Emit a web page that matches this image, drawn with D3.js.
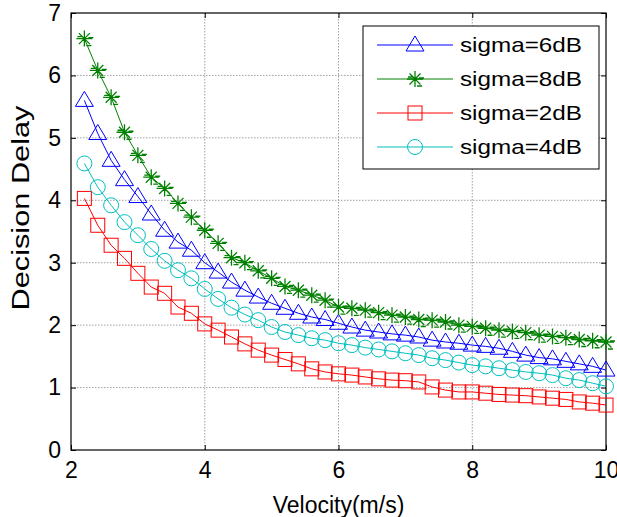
<!DOCTYPE html>
<html>
<head>
<meta charset="utf-8">
<script src="https://cdn.jsdelivr.net/npm/d3@7"></script>
<style>
  body { margin: 0; background: #fff; }
  svg { display: block; font-family: Arial, "Liberation Sans", sans-serif; }
  .grid line { stroke: #a0a0a0; stroke-dasharray: 1.5 1.5; }
</style>
</head>
<body>
<svg id="chart" width="617" height="517"></svg>
<script>
// velocity (m/s)
const velocity = [2.2, 2.4, 2.6, 2.8, 3.0, 3.2, 3.4, 3.6, 3.8, 4.0,
                  4.2, 4.4, 4.6, 4.8, 5.0, 5.2, 5.4, 5.6, 5.8, 6.0,
                  6.2, 6.4, 6.6, 6.8, 7.0, 7.2, 7.4, 7.6, 7.8, 8.0,
                  8.2, 8.4, 8.6, 8.8, 9.0, 9.2, 9.4, 9.6, 9.8, 10.0];

// decision delay per sigma
const sigma6 = [5.60, 5.07, 4.64, 4.33, 4.06, 3.78, 3.52, 3.33, 3.20, 3.00,
                2.85, 2.69, 2.56, 2.45, 2.35, 2.27, 2.19, 2.13, 2.09, 2.03,
                1.97, 1.92, 1.89, 1.86, 1.84, 1.81, 1.76, 1.73, 1.71, 1.68,
                1.66, 1.63, 1.58, 1.52, 1.48, 1.46, 1.42, 1.38, 1.34, 1.28];
const sigma8 = [6.59, 6.08, 5.65, 5.09, 4.72, 4.37, 4.19, 3.95, 3.73, 3.52,
                3.31, 3.08, 3.00, 2.87, 2.75, 2.62, 2.56, 2.48, 2.40, 2.29,
                2.27, 2.24, 2.20, 2.16, 2.13, 2.09, 2.08, 2.05, 2.00, 1.98,
                1.95, 1.92, 1.90, 1.88, 1.84, 1.82, 1.80, 1.77, 1.75, 1.73];
const sigma2 = [4.03, 3.60, 3.28, 3.07, 2.83, 2.61, 2.51, 2.29, 2.19, 2.02,
                1.92, 1.81, 1.70, 1.60, 1.52, 1.45, 1.38, 1.30, 1.25, 1.22,
                1.20, 1.17, 1.14, 1.12, 1.11, 1.09, 1.01, 0.96, 0.93, 0.93,
                0.91, 0.89, 0.88, 0.87, 0.85, 0.83, 0.81, 0.77, 0.75, 0.72];
const sigma4 = [4.59, 4.21, 3.92, 3.65, 3.44, 3.22, 3.03, 2.88, 2.75, 2.58,
                2.42, 2.28, 2.17, 2.08, 1.97, 1.89, 1.84, 1.79, 1.76, 1.71,
                1.68, 1.64, 1.61, 1.58, 1.55, 1.52, 1.47, 1.44, 1.40, 1.36,
                1.34, 1.31, 1.28, 1.25, 1.23, 1.20, 1.15, 1.12, 1.07, 1.02];

const seriesNames = ["sigma=6dB", "sigma=8dB", "sigma=2dB", "sigma=4dB"];
const xTicks = [2, 4, 6, 8, 10];
const yTicks = [0, 1, 2, 3, 4, 5, 6, 7];

const series = [
  { name: seriesNames[0], values: sigma6, color: "#0000ff", marker: "triangle" },
  { name: seriesNames[1], values: sigma8, color: "#008000", marker: "star" },
  { name: seriesNames[2], values: sigma2, color: "#ff0000", marker: "square" },
  { name: seriesNames[3], values: sigma4, color: "#00bfbf", marker: "circle" }
];

const svg = d3.select("#chart");
const pLeft = 71, pRight = 606, pTop = 13, pBottom = 450;

const x = d3.scaleLinear().domain([2, 10]).range([pLeft, pRight]);
const y = d3.scaleLinear().domain([0, 7]).range([pBottom, pTop]);

// grid
const grid = svg.append("g").attr("class", "grid");
grid.selectAll(".gx").data(xTicks.slice(1, -1)).enter().append("line")
  .attr("x1", d => x(d)).attr("x2", d => x(d)).attr("y1", pTop).attr("y2", pBottom);
grid.selectAll(".gy").data(yTicks.slice(1, -1)).enter().append("line")
  .attr("y1", d => y(d)).attr("y2", d => y(d)).attr("x1", pLeft).attr("x2", pRight);

// axes (ticks inward, on all four sides)
function styleAxis(g) {
  g.select(".domain").remove();
  g.selectAll(".tick line").attr("stroke", "#000");
  g.selectAll("text").attr("font-size", 23).attr("fill", "#000");
}
const fmt = d3.format("d");
svg.append("g").attr("transform", `translate(0,${pBottom})`)
  .call(d3.axisBottom(x).tickValues(xTicks).tickFormat(fmt).tickSizeInner(-5).tickPadding(12))
  .call(styleAxis);
svg.append("g").attr("transform", `translate(0,${pTop})`)
  .call(d3.axisTop(x).tickValues(xTicks).tickSizeInner(-5).tickFormat(""))
  .call(styleAxis);
svg.append("g").attr("transform", `translate(${pLeft},0)`)
  .call(d3.axisLeft(y).tickValues(yTicks).tickFormat(fmt).tickSizeInner(-5).tickPadding(10))
  .call(styleAxis);
svg.append("g").attr("transform", `translate(${pRight},0)`)
  .call(d3.axisRight(y).tickValues(yTicks).tickSizeInner(-5).tickFormat(""))
  .call(styleAxis);

svg.append("rect").attr("x", pLeft).attr("y", pTop)
  .attr("width", pRight - pLeft).attr("height", pBottom - pTop)
  .attr("fill", "none").attr("stroke", "#000").attr("stroke-width", 1.2);

// markers
function drawMarker(g, type, color) {
  if (type === "triangle") {
    g.append("path").attr("d", "M0,-9L9,6L-9,6Z")
      .attr("fill", "none").attr("stroke", color);
  } else if (type === "square") {
    g.append("rect").attr("x", -7).attr("y", -7).attr("width", 14).attr("height", 14)
      .attr("fill", "none").attr("stroke", color);
  } else if (type === "circle") {
    g.append("circle").attr("r", 7.5).attr("fill", "none").attr("stroke", color);
  } else {
    g.append("path")
      .attr("d", "M0,-8V8M-8,0H8M-5.5,-5.5L5.5,5.5M-5.5,5.5L5.5,-5.5M2,7H7M-7,-2H-2M4,-1H9")
      .attr("fill", "none").attr("stroke", color).attr("stroke-width", 1.3);
  }
}

const line = d3.line().x((d, i) => x(velocity[i])).y(d => y(d));
const plot = svg.append("g");
series.forEach(s => {
  plot.append("path").datum(s.values)
    .attr("d", line).attr("fill", "none").attr("stroke", s.color).attr("stroke-width", 1);
  s.values.forEach((v, i) => {
    const g = plot.append("g").attr("transform", `translate(${x(velocity[i])},${y(v)})`);
    drawMarker(g, s.marker, s.color);
  });
});

// axis labels
svg.append("text").attr("x", (pLeft + pRight) / 2).attr("y", 513)
  .attr("text-anchor", "middle").attr("font-size", 23).text("Velocity(m/s)");
svg.append("text").attr("transform", "translate(29,208) rotate(-90)")
  .attr("text-anchor", "middle").attr("font-size", 23)
  .attr("textLength", 205).attr("lengthAdjust", "spacingAndGlyphs").text("Decision Delay");

// legend
const lg = svg.append("g");
lg.append("rect").attr("x", 363).attr("y", 26).attr("width", 236).attr("height", 143)
  .attr("fill", "#fff").attr("stroke", "#000");
series.forEach((s, i) => {
  const cy = 45 + i * 34;
  lg.append("line").attr("x1", 377).attr("x2", 453).attr("y1", cy).attr("y2", cy)
    .attr("stroke", s.color);
  drawMarker(lg.append("g").attr("transform", `translate(415,${cy})`), s.marker, s.color);
  lg.append("text").attr("x", 460).attr("y", cy + 7).attr("font-size", 21)
    .attr("textLength", 122).attr("lengthAdjust", "spacingAndGlyphs").text(s.name);
});
</script>
</body>
</html>
